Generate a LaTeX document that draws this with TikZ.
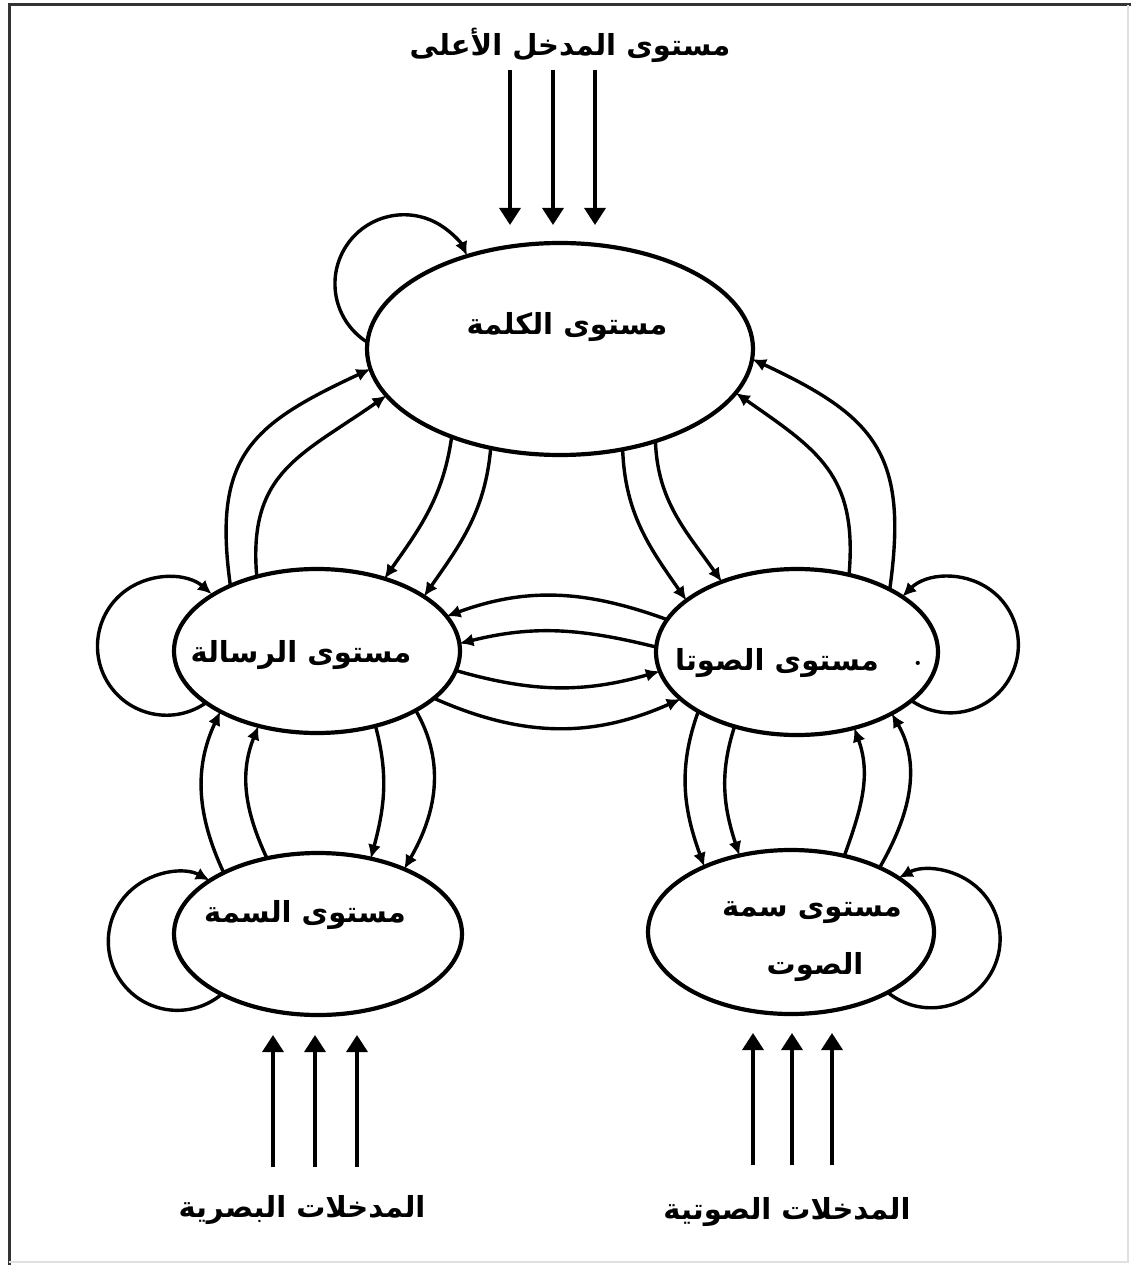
\documentclass[tikz,border=0pt]{standalone}
\usepackage{fontspec}
\usetikzlibrary{shapes.geometric,arrows.meta}
\TeXXeTstate=1
\newfontfamily\arabicfont[Script=Arabic]{DejaVu Sans}
\newcommand{\artext}[1]{{\arabicfont\bfseries\beginR #1\endR}}

\begin{document}
\begin{tikzpicture}[x=1pt,y=1pt,
  level/.style={draw, ellipse, line width=4.2pt, inner sep=0pt, outer sep=0pt},
  link/.style={line width=3.4pt, -{Latex[length=14pt,width=13pt]}},
  feed/.style={line width=3.4pt, -{Triangle[length=17pt,width=21pt]}},
  lbl/.style={inner sep=0pt, font=\fontsize{29}{34}\selectfont}]
\useasboundingbox (0,0) rectangle (1131,-1265);

% page frame
\draw[line width=3pt, black!80] (9,-1265) -- (9,-5) -- (1131,-5);
\draw[line width=2pt, black!12] (9,-1262) -- (1128,-1262) -- (1128,-5);

% processing levels
\node[level, minimum width=386pt, minimum height=212pt] (word) at (560,-349) {};
\node[level, minimum width=286pt, minimum height=164pt] (msg)  at (317,-651) {};
\node[level, minimum width=282pt, minimum height=166pt] (pho)  at (797,-652) {};
\node[level, minimum width=288pt, minimum height=162pt] (feat) at (318,-934) {};
\node[level, minimum width=286pt, minimum height=164pt] (aco)  at (791,-932) {};

% labels
\node[lbl] (toplbl)   at (570,-45)   {\artext{مستوى المدخل الأعلى}};
\node[lbl] (vislbl)   at (302,-1210) {\artext{المدخلات البصرية}};
\node[lbl] (audlbl)   at (787,-1212) {\artext{المدخلات الصوتية}};
\node[lbl] (wordlbl)  at (567,-327)  {\artext{مستوى الكلمة}};
\node[lbl] (msglbl)   at (301,-655)  {\artext{مستوى الرسالة}};
\node[lbl] (pholbl)   at (777,-663)  {\artext{مستوى الصوتا}};
\node[lbl] (phodot)   at (918,-663)  {\bfseries .};
\node[lbl] (featlbl)  at (305,-915)  {\artext{مستوى السمة}};
\node[lbl] (acolbla)  at (812,-913)  {\artext{مستوى سمة}};
\node[lbl] (acolblb)  at (815,-967)  {\artext{الصوت}};

% self-excitation loops
\draw[link] (word.178) arc[start angle=238, end angle=24, radius=69];
\draw[link] (msg.205)  arc[start angle=305, end angle=49, radius=69];
\draw[link] (pho.337)  arc[start angle=235, end angle=495, radius=68];
\draw[link] (feat.212) arc[start angle=310, end angle=62, radius=69];
\draw[link] (aco.328)  arc[start angle=231, end angle=478, radius=69];

% word <-> message
\draw[link] (msg.143) to[out=98,in=205,looseness=1.3] (word.186);
\draw[link] (msg.129) to[out=95,in=215,looseness=1.2] (word.195);
\draw[link] (word.219) to[out=262,in=55] (msg.47);
\draw[link] (word.235) to[out=265,in=55] (msg.27);

% word <-> phoneme
\draw[link] (word.302) to[out=272,in=125] (pho.155);
\draw[link] (word.316) to[out=272,in=125] (pho.137);
\draw[link] (pho.34) to[out=82,in=335,looseness=1.3] (word.357);
\draw[link] (pho.56) to[out=85,in=325,looseness=1.2] (word.346);

% message <-> phoneme
\draw[link] (pho.166) to[out=160,in=20] (msg.15);
\draw[link] (pho.178) to[out=166,in=14] (msg.3);
\draw[link] (msg.352) to[out=-16,in=196] (pho.188);
\draw[link] (msg.338) to[out=-24,in=204] (pho.202);

% message <-> feature
\draw[link] (feat.147) to[out=115,in=245] (msg.212);
\draw[link] (feat.124) to[out=115,in=248] (msg.232);
\draw[link] (msg.308) to[out=285,in=75] (feat.55);
\draw[link] (msg.329) to[out=300,in=60] (feat.37);

% phoneme <-> acoustic feature
\draw[link] (pho.211) to[out=250,in=110] (aco.143);
\draw[link] (pho.230) to[out=252,in=108] (aco.124);
\draw[link] (aco.55) to[out=70,in=290] (pho.307);
\draw[link] (aco.36) to[out=60,in=300] (pho.327);

% external inputs
\coordinate (ta) at (510,-70);   \coordinate (tae) at (510,-225);
\coordinate (tb) at (553,-70);   \coordinate (tbe) at (553,-225);
\coordinate (tc) at (595,-70);   \coordinate (tce) at (595,-225);
\draw[feed] (ta) -- (tae);
\draw[feed] (tb) -- (tbe);
\draw[feed] (tc) -- (tce);

\coordinate (va) at (273,-1167); \coordinate (vae) at (273,-1035);
\coordinate (vb) at (315,-1167); \coordinate (vbe) at (315,-1035);
\coordinate (vc) at (357,-1167); \coordinate (vce) at (357,-1035);
\draw[feed] (va) -- (vae);
\draw[feed] (vb) -- (vbe);
\draw[feed] (vc) -- (vce);

\coordinate (aa) at (753,-1165); \coordinate (aae) at (753,-1033);
\coordinate (ab) at (792,-1165); \coordinate (abe) at (792,-1033);
\coordinate (ac) at (832,-1165); \coordinate (ace) at (832,-1033);
\draw[feed] (aa) -- (aae);
\draw[feed] (ab) -- (abe);
\draw[feed] (ac) -- (ace);
\end{tikzpicture}
\end{document}
